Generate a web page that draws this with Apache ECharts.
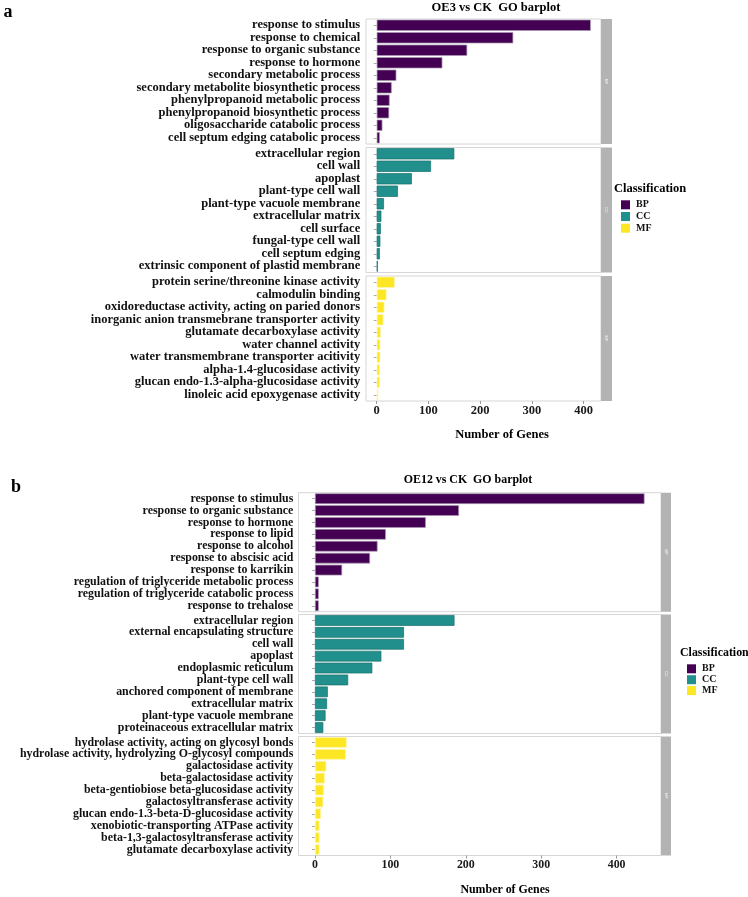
<!DOCTYPE html>
<html>
<head>
<meta charset="utf-8">
<script src="https://cdn.jsdelivr.net/npm/echarts@6/dist/echarts.min.js"></script>
<style>
  html, body { margin: 0; padding: 0; background: #fff; }
  #main { width: 748px; height: 897px; }
</style>
</head>
<body>
<div id="main"></div>
<script>
// OE3 vs CK
const oe3BpTerms = ['response to stimulus', 'response to chemical', 'response to organic substance', 'response to hormone',
  'secondary metabolic process', 'secondary metabolite biosynthetic process', 'phenylpropanoid metabolic process',
  'phenylpropanoid biosynthetic process', 'oligosaccharide catabolic process', 'cell septum edging catabolic process']
const oe3BpGenes = [414, 264, 175, 127, 38, 29, 25, 24, 11, 6]
const oe3CcTerms = ['extracellular region', 'cell wall', 'apoplast', 'plant-type cell wall', 'plant-type vacuole membrane',
  'extracellular matrix', 'cell surface', 'fungal-type cell wall', 'cell septum edging', 'extrinsic component of plastid membrane']
const oe3CcGenes = [150, 105, 68, 41, 14, 9, 8, 7, 6, 2]
const oe3MfTerms = ['protein serine/threonine kinase activity', 'calmodulin binding', 'oxidoreductase activity, acting on paried donors',
  'inorganic anion transmebrane transporter activity', 'glutamate decarboxylase activity', 'water channel activity',
  'water transmembrane transporter acitivity', 'alpha-1.4-glucosidase activity', 'glucan endo-1.3-alpha-glucosidase activity',
  'linoleic acid epoxygenase activity']
const oe3MfGenes = [35, 19, 15, 13, 8, 7, 7, 6, 6, 3]

// OE12 vs CK
const oe12BpTerms = ['response to stimulus', 'response to organic substance', 'response to hormone', 'response to lipid',
  'response to alcohol', 'response to abscisic acid', 'response to karrikin', 'regulation of triglyceride metabolic process',
  'regulation of triglyceride catabolic process', 'response to trehalose']
const oe12BpGenes = [437, 191, 147, 94, 83, 73, 36, 5, 5, 5]
const oe12CcTerms = ['extracellular region', 'external encapsulating structure', 'cell wall', 'apoplast', 'endoplasmic reticulum',
  'plant-type cell wall', 'anchored component of membrane', 'extracellular matrix', 'plant-type vacuole membrane',
  'proteinaceous extracellular matrix']
const oe12CcGenes = [185, 118, 118, 88, 76, 44, 17, 16, 14, 11]
const oe12MfTerms = ['hydrolase activity, acting on glycosyl bonds', 'hydrolase activity, hydrolyzing O-glycosyl compounds',
  'galactosidase activity', 'beta-galactosidase activity', 'beta-gentiobiose beta-glucosidase activity',
  'galactosyltransferase activity', 'glucan endo-1.3-beta-D-glucosidase activity', 'xenobiotic-transporting ATPase activity',
  'beta-1,3-galactosyltransferase activity', 'glutamate decarboxylase activity']
const oe12MfGenes = [42, 41, 15, 13, 12, 11, 8, 6, 6, 6]

const classes = ['BP', 'CC', 'MF']
const tickValues = [0, 100, 200, 300, 400]

const colors = {BP: '#440154', CC: '#21908C', MF: '#FDE725'}
const borders = {BP: '#a89aae', CC: '#17706c', MF: '#fff6b0'}
const font = 'Liberation Serif'

//两张图的布局
const panels = [
  {
    title: 'OE3 vs CK  GO barplot', tag: 'a', tagXY: [8, 12],
    terms: [oe3BpTerms, oe3CcTerms, oe3MfTerms], genes: [oe3BpGenes, oe3CcGenes, oe3MfGenes],
    left: 366, width: 235, tops: [19, 147.5, 276], height: 125, strip: 11,
    min: -20.7, max: 433.7, fs: 12.5, labelMargin: 5.8, titleXY: [496, 8], xnameXY: [502, 435],
    legendX: 614, legendTitleY: 189, legendTop: 199.8, legendGap: 1.7
  },
  {
    title: 'OE12 vs CK  GO barplot', tag: 'b', tagXY: [16, 487],
    terms: [oe12BpTerms, oe12CcTerms, oe12MfTerms], genes: [oe12BpGenes, oe12CcGenes, oe12MfGenes],
    left: 298.5, width: 362.5, tops: [492.7, 614.5, 736.5], height: 119, strip: 10,
    min: -21.85, max: 458.85, fs: 11.9, labelMargin: 5.2, titleXY: [468, 480], xnameXY: [505, 890],
    legendX: 680, legendTitleY: 652.7, legendTop: 663.8, legendGap: 0.9
  }
]

const chart = echarts.init(document.getElementById('main'))
const grid = [], xAxis = [], yAxis = [], series = [], graphic = [], legend = []

panels.forEach((p, pi) => {
  classes.forEach((cls, ci) => {
    const idx = grid.length
    const last = ci === classes.length - 1
    grid.push({
      left: p.left, top: p.tops[ci], width: p.width, height: p.height,
      show: true, backgroundColor: '#fff', borderColor: '#d6d6d6', borderWidth: 1
    })
    xAxis.push({
      type: 'value', gridIndex: idx, min: p.min, max: p.max,
      axisLine: {show: false},
      splitLine: {show: false},
      axisTick: {show: last, length: 3, customValues: tickValues, lineStyle: {color: '#999'}},
      axisLabel: {
        show: last, customValues: tickValues, margin: 3, color: '#1a1a1a',
        fontFamily: font, fontWeight: 'bold', fontSize: p.fs
      }
    })
    yAxis.push({
      type: 'category', gridIndex: idx, inverse: true, data: p.terms[ci],
      axisLine: {show: false},
      axisTick: {show: true, length: 3, interval: 0, alignWithLabel: true, lineStyle: {color: '#aaa'}},
      axisLabel: {interval: 0, margin: p.labelMargin, color: '#111', fontFamily: font, fontWeight: 'bold', fontSize: p.fs}
    })
    series.push({
      name: cls, type: 'bar', xAxisIndex: idx, yAxisIndex: idx,
      data: p.genes[ci], barCategoryGap: '10%',
      itemStyle: {color: colors[cls], borderColor: borders[cls], borderWidth: 0.7},
      emphasis: {disabled: true}
    })
    //右侧分面条
    graphic.push({
      type: 'rect', silent: true,
      shape: {x: p.left + p.width, y: p.tops[ci], width: p.strip, height: p.height},
      style: {fill: '#b3b3b3'}
    })
    graphic.push({
      type: 'text', silent: true,
      x: p.left + p.width + p.strip / 2, y: p.tops[ci] + p.height / 2, rotation: -Math.PI / 2,
      style: {text: cls, fill: '#f2f2f2', font: '4px sans-serif', textAlign: 'center', textVerticalAlign: 'middle'}
    })
  })
  graphic.push({
    type: 'text', silent: true, x: p.titleXY[0], y: p.titleXY[1],
    style: {text: p.title, fill: '#000', font: `bold ${p.fs}px "${font}"`, textAlign: 'center', textVerticalAlign: 'middle'}
  })
  graphic.push({
    type: 'text', silent: true, x: p.xnameXY[0], y: p.xnameXY[1],
    style: {text: 'Number of Genes', fill: '#000', font: `bold ${p.fs}px "${font}"`, textAlign: 'center', textVerticalAlign: 'middle'}
  })
  graphic.push({
    type: 'text', silent: true, x: p.tagXY[0], y: p.tagXY[1],
    style: {text: p.tag, fill: '#000', font: `bold 18px "${font}"`, textAlign: 'center', textVerticalAlign: 'middle'}
  })
  graphic.push({
    type: 'text', silent: true, x: p.legendX, y: p.legendTitleY,
    style: {text: 'Classification', fill: '#000', font: `bold ${p.fs}px "${font}"`, textAlign: 'left', textVerticalAlign: 'middle'}
  })
  legend.push({
    data: classes, orient: 'vertical', left: p.legendX + 7, top: p.legendTop,
    icon: 'rect', itemWidth: 9, itemHeight: 9, itemGap: p.legendGap, selectedMode: false,
    padding: 0, itemStyle: {borderWidth: 0},
    textStyle: {fontFamily: font, fontWeight: 'bold', fontSize: 10, color: '#111', padding: [0, 0, 0, 1]}
  })
})

chart.setOption({
  animation: false,
  grid: grid,
  xAxis: xAxis,
  yAxis: yAxis,
  series: series,
  legend: legend,
  graphic: graphic
})
</script>
</body>
</html>
